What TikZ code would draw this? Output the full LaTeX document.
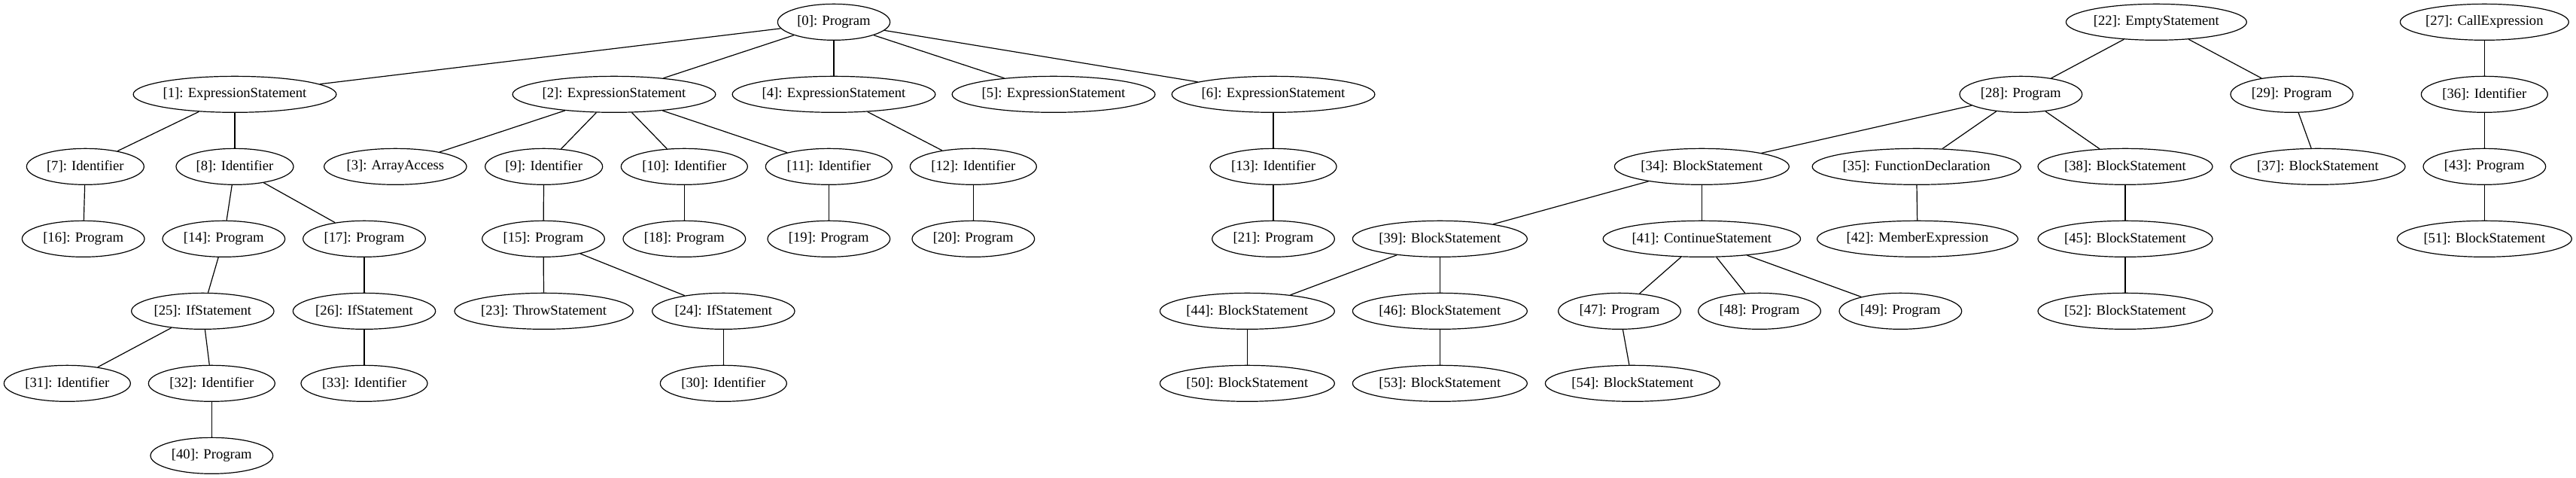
\documentclass[tikz,border=0pt]{standalone}
\usepackage{fontspec}
\setmainfont{Liberation Serif}
\usetikzlibrary{shapes.geometric}
\begin{document}
\begin{tikzpicture}[x=1pt,y=-1pt,
  nd/.style={draw, ellipse, inner sep=0pt, minimum height=36pt, line width=0.9pt, font=\fontsize{14}{16}\selectfont},
  PA/.style={nd, minimum width=112pt},
  PB/.style={nd, minimum width=122pt},
  ES/.style={nd, minimum width=202pt},
  EM/.style={nd, minimum width=180pt},
  CE/.style={nd, minimum width=168pt},
  IA/.style={nd, minimum width=117pt},
  IB/.style={nd, minimum width=126pt},
  AA/.style={nd, minimum width=142pt},
  BS/.style={nd, minimum width=174pt},
  FD/.style={nd, minimum width=206pt},
  CS/.style={nd, minimum width=196pt},
  ME/.style={nd, minimum width=200pt},
  IF/.style={nd, minimum width=142pt},
  TS/.style={nd, minimum width=178pt},
  ed/.style={line width=0.9pt}]
\useasboundingbox (0,0) rectangle (2567.25,476.25);
% row 0
\node[PA] (n0) at (831,22) {[0]: Program};
\node[EM] (n22) at (2149,22) {[22]: EmptyStatement};
\node[CE] (n27) at (2476,22) {[27]: CallExpression};
% row 1
\node[ES] (n1) at (234,94) {[1]: ExpressionStatement};
\node[ES] (n2) at (612,94) {[2]: ExpressionStatement};
\node[ES] (n4) at (831,94) {[4]: ExpressionStatement};
\node[ES] (n5) at (1050,94) {[5]: ExpressionStatement};
\node[ES] (n6) at (1269,94) {[6]: ExpressionStatement};
\node[PB] (n28) at (2014,94) {[28]: Program};
\node[PB] (n29) at (2284,94) {[29]: Program};
\node[IB] (n36) at (2476,94) {[36]: Identifier};
% row 2
\node[IA] (n7) at (85,166) {[7]: Identifier};
\node[IA] (n8) at (234,166) {[8]: Identifier};
\node[AA] (n3) at (394,166) {[3]: ArrayAccess};
\node[IA] (n9) at (542,166) {[9]: Identifier};
\node[IB] (n10) at (682,166) {[10]: Identifier};
\node[IB] (n11) at (826,166) {[11]: Identifier};
\node[IB] (n12) at (970,166) {[12]: Identifier};
\node[IB] (n13) at (1269,166) {[13]: Identifier};
\node[BS] (n34) at (1696,166) {[34]: BlockStatement};
\node[FD] (n35) at (1910,166) {[35]: FunctionDeclaration};
\node[BS] (n38) at (2118,166) {[38]: BlockStatement};
\node[BS] (n37) at (2310,166) {[37]: BlockStatement};
\node[PB] (n43) at (2476,166) {[43]: Program};
% row 3
\node[PB] (n16) at (83,238) {[16]: Program};
\node[PB] (n14) at (223,238) {[14]: Program};
\node[PB] (n17) at (363,238) {[17]: Program};
\node[PB] (n15) at (541.5,238) {[15]: Program};
\node[PB] (n18) at (682,238) {[18]: Program};
\node[PB] (n19) at (826,238) {[19]: Program};
\node[PB] (n20) at (970,238) {[20]: Program};
\node[PB] (n21) at (1269,238) {[21]: Program};
\node[BS] (n39) at (1435,238) {[39]: BlockStatement};
\node[CS] (n41) at (1696,238) {[41]: ContinueStatement};
\node[ME] (n42) at (1911,238) {[42]: MemberExpression};
\node[BS] (n45) at (2118,238) {[45]: BlockStatement};
\node[BS] (n51) at (2476,238) {[51]: BlockStatement};
% row 4
\node[IF] (n25) at (202,310) {[25]: IfStatement};
\node[IF] (n26) at (363,310) {[26]: IfStatement};
\node[TS] (n23) at (542,310) {[23]: ThrowStatement};
\node[IF] (n24) at (721,310) {[24]: IfStatement};
\node[BS] (n44) at (1243,310) {[44]: BlockStatement};
\node[BS] (n46) at (1435,310) {[46]: BlockStatement};
\node[PB] (n47) at (1614,310) {[47]: Program};
\node[PB] (n48) at (1753.5,310) {[48]: Program};
\node[PB] (n49) at (1894,310) {[49]: Program};
\node[BS] (n52) at (2118,310) {[52]: BlockStatement};
% row 5
\node[IB] (n31) at (67,382) {[31]: Identifier};
\node[IB] (n32) at (211,382) {[32]: Identifier};
\node[IB] (n33) at (363,382) {[33]: Identifier};
\node[IB] (n30) at (721,382) {[30]: Identifier};
\node[BS] (n50) at (1243,382) {[50]: BlockStatement};
\node[BS] (n53) at (1435,382) {[53]: BlockStatement};
\node[BS] (n54) at (1627,382) {[54]: BlockStatement};
% row 6
\node[PB] (n40) at (211,454) {[40]: Program};
% edges
\foreach \a/\b in {n0/n1,n0/n2,n0/n4,n0/n5,n0/n6,n1/n7,n1/n8,n2/n3,n2/n9,n2/n10,n2/n11,
  n4/n12,n6/n13,n7/n16,n8/n14,n8/n17,n9/n15,n10/n18,n11/n19,n12/n20,n13/n21,
  n14/n25,n17/n26,n15/n23,n15/n24,n25/n31,n25/n32,n26/n33,n24/n30,n32/n40,
  n22/n28,n22/n29,n28/n34,n28/n35,n28/n38,n29/n37,n34/n39,n34/n41,n35/n42,n38/n45,
  n39/n44,n39/n46,n41/n47,n41/n48,n41/n49,n44/n50,n46/n53,n47/n54,n45/n52,
  n27/n36,n36/n43,n43/n51}
  \draw[ed] (\a) -- (\b);
\end{tikzpicture}
\end{document}
